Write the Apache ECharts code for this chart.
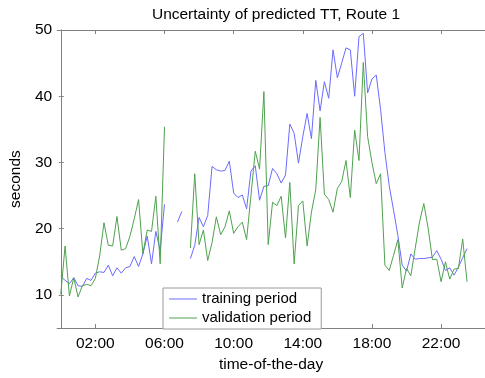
<!DOCTYPE html>
<html>
<head>
<meta charset="utf-8">
<script src="https://cdn.jsdelivr.net/npm/echarts@6/dist/echarts.min.js"></script>
<style>
html,body{margin:0;padding:0;background:#fff;}
#chart{width:485px;height:378px;}
</style>
</head>
<body>
<div id="chart"></div>
<script>
// time of day in hours (15-minute samples)
const times = [
 0,0.25,0.5,0.75,1,1.25,1.5,1.75,2,2.25,2.5,2.75,3,3.25,3.5,3.75,
 4,4.25,4.5,4.75,5,5.25,5.5,5.75,6,6.25,6.5,6.75,7,7.25,7.5,7.75,
 8,8.25,8.5,8.75,9,9.25,9.5,9.75,10,10.25,10.5,10.75,11,11.25,11.5,11.75,
 12,12.25,12.5,12.75,13,13.25,13.5,13.75,14,14.25,14.5,14.75,15,15.25,15.5,15.75,
 16,16.25,16.5,16.75,17,17.25,17.5,17.75,18,18.25,18.5,18.75,19,19.25,19.5,19.75,
 20,20.25,20.5,20.75,21,21.25,21.5,21.75,22,22.25,22.5,22.75,23,23.25,23.5
];
const training = [
 12.8,12.2,11.7,12.6,11.4,11.3,12.5,12.2,13.3,13.5,13.4,14.5,12.9,14.1,13.3,14.1,
 14.3,15.8,14.3,16.2,18.9,14.7,19.6,16.7,23.7,null,null,21.0,22.6,null,15.5,17.5,
 21.7,20.3,22.0,29.4,28.9,28.7,28.8,30.2,25.4,24.7,25.1,23.0,28.7,29.5,24.3,26.4,
 26.5,29.1,28.3,26.9,28.1,35.8,34.4,29.9,33.9,37.4,33.6,42.4,37.8,42.2,39.7,47.0,
 42.8,45.0,47.3,47.0,40.0,49.0,49.5,40.5,42.6,43.2,38.0,31.5,26.5,22.8,19.0,14.5,
 13.6,16.2,15.4,15.5,15.5,15.6,15.7,16.7,15.4,13.7,14.1,13.0,14.2,15.6,17.0
];
const validation = [
 10.1,17.4,9.85,12.6,9.7,11.4,11.6,11.4,12.5,15.9,20.9,17.5,17.4,21.85,16.75,17.0,
 18.85,21.5,24.4,16.2,19.8,19.6,24.9,14.7,35.4,null,null,null,null,null,17.1,28.3,
 17.6,19.8,15.2,17.9,21.8,19.1,20.3,22.7,19.3,20.3,21.0,18.35,25.0,31.7,29.0,40.7,
 17.6,24.0,23.5,24.9,18.6,27.0,14.7,23.5,24.2,17.4,22.5,25.9,36.8,25.2,24.4,22.5,
 26.1,27.1,30.3,24.7,34.9,30.3,45.1,33.9,30.0,26.8,28.3,14.5,13.7,16.0,18.35,11.06,
 14.0,12.9,17.0,21.0,23.8,20.1,15.35,15.4,12.0,15.0,12.4,13.9,14.0,18.45,12.0
];
const xTicks = [2, 6, 10, 14, 18, 22];
const yTicks = [10, 20, 30, 40, 50];
const seriesNames = ['training period', 'validation period'];
const titleText = 'Uncertainty of predicted TT, Route 1';

const pair = arr => times.map((t, i) => [t, arr[i]]);
const fmtHour = v => (v < 10 ? '0' : '') + Math.round(v) + ':00';
const FONT = 'Liberation Sans, Arial, Helvetica, sans-serif';
const AX = '#808080';
const BLUE = '#6b6bff';
const GREEN = '#4fa24f';

const chart = echarts.init(document.getElementById('chart'), null, {renderer: 'canvas'});
chart.setOption({
  animation: false,
  backgroundColor: '#fff',
  title: {
    text: titleText, left: 271, textAlign: 'center', top: 2,
    textStyle: {fontFamily: FONT, fontSize: 15.5, fontWeight: 'normal', color: '#000'}
  },
  grid: {left: 52, top: 30, right: -4, bottom: 40, containLabel: false},
  legend: {
    orient: 'vertical', left: 163, top: 288,
    padding: [3, 10, 3, 6], itemGap: 3, itemWidth: 28, itemHeight: 1,
    icon: 'rect',
    borderColor: '#9a9a9a', borderWidth: 1, backgroundColor: '#fff',
    textStyle: {fontFamily: FONT, fontSize: 15, color: '#000', lineHeight: 16},
    data: [
      {name: seriesNames[0], icon: 'rect', itemStyle: {color: BLUE, borderWidth: 0}},
      {name: seriesNames[1], icon: 'rect', itemStyle: {color: GREEN, borderWidth: 0}}
    ]
  },
  xAxis: [{
    type: 'value', min: -0.21, max: 24.54, position: 'bottom',
    name: 'time-of-the-day', nameLocation: 'middle', nameGap: 21,
    nameTextStyle: {fontFamily: FONT, fontSize: 15.5, color: '#000'},
    axisLine: {show: true, lineStyle: {color: AX, width: 1}},
    axisTick: {show: true, inside: true, length: 4, customValues: xTicks, lineStyle: {color: AX}},
    axisLabel: {show: true, customValues: xTicks, formatter: fmtHour, margin: 8,
      fontFamily: FONT, fontSize: 15.5, color: '#000'},
    splitLine: {show: false}
  }, {
    type: 'value', min: -0.21, max: 24.54, position: 'top',
    axisLine: {show: true, lineStyle: {color: AX, width: 1}},
    axisTick: {show: true, inside: true, length: 4, customValues: xTicks, lineStyle: {color: AX}},
    axisLabel: {show: false},
    splitLine: {show: false}
  }],
  yAxis: [{
    type: 'value', min: 5, max: 50, position: 'left',
    name: 'seconds', nameLocation: 'middle', nameGap: 27, nameRotate: 90,
    nameTextStyle: {fontFamily: FONT, fontSize: 15.5, color: '#000'},
    axisLine: {show: true, lineStyle: {color: AX, width: 1}},
    axisTick: {show: true, inside: true, length: 3, customValues: yTicks, lineStyle: {color: AX}},
    axisLabel: {show: true, customValues: yTicks, margin: 5,
      fontFamily: FONT, fontSize: 15.5, color: '#000'},
    splitLine: {show: false}
  }, {
    type: 'value', min: 5, max: 50, position: 'left',
    axisLine: {show: false},
    axisTick: {show: true, inside: false, length: 2, customValues: yTicks, lineStyle: {color: AX}},
    axisLabel: {show: false},
    splitLine: {show: false}
  }],
  series: [{
    name: seriesNames[0], type: 'line', data: pair(training),
    xAxisIndex: 0, yAxisIndex: 0,
    symbol: 'none', showSymbol: false, connectNulls: false,
    lineStyle: {color: BLUE, width: 1}, itemStyle: {color: BLUE}
  }, {
    name: seriesNames[1], type: 'line', data: pair(validation),
    xAxisIndex: 0, yAxisIndex: 0,
    symbol: 'none', showSymbol: false, connectNulls: false,
    lineStyle: {color: GREEN, width: 1}, itemStyle: {color: GREEN}
  }]
});
</script>
</body>
</html>
